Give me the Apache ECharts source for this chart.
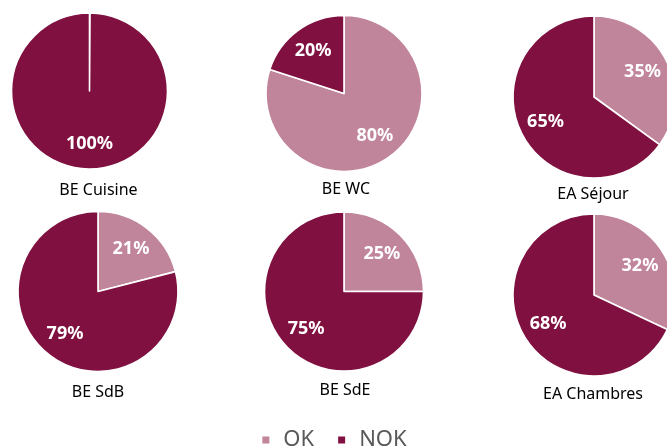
<!DOCTYPE html>
<html>
<head>
<meta charset="utf-8">
<script src="https://cdn.jsdelivr.net/npm/echarts@6/dist/echarts.min.js"></script>
<style>
  html, body { margin: 0; padding: 0; background: #ffffff; }
  #chart { width: 667px; height: 446px; }
</style>
</head>
<body>
<div id="chart"></div>
<script>
// Share of OK / NOK results per room (percent)
const rooms = ['BE Cuisine', 'BE WC', 'EA Séjour', 'BE SdB', 'BE SdE', 'EA Chambres'];
const okPct = [0, 80, 35, 21, 25, 32];
const nokPct = [100, 20, 65, 79, 75, 68];
const statusNames = ['OK', 'NOK'];

// Pie placement: centre, radius, and the room caption position
const pieLayout = [
  { c: [89.5, 91], r: 78, cap: [98.5, 190] },
  { c: [344, 93.5], r: 78, cap: [346, 189] },
  { c: [594, 97], r: 81, cap: [593, 194] },
  { c: [98, 291.5], r: 80, cap: [98, 392] },
  { c: [344, 291.5], r: 79.5, cap: [345, 390] },
  { c: [594, 295], r: 81, cap: [593, 394] }
];

const OK_COLOR = '#C0849B';
const NOK_COLOR = '#7F103F';
const FONT = '"Noto Sans", "DejaVu Sans", sans-serif';

const series = [];
rooms.forEach((room, i) => {
  const data = [
    { name: statusNames[0], value: okPct[i], itemStyle: { color: OK_COLOR } },
    { name: statusNames[1], value: nokPct[i], itemStyle: { color: NOK_COLOR } }
  ];
  const L = pieLayout[i];
  // Filled pie with white slice separators; a zero share still shows as a thin divider
  series.push({
    type: 'pie',
    name: room,
    center: L.c,
    radius: [0, L.r],
    startAngle: 90,
    clockwise: true,
    minAngle: 0.4,
    silent: true,
    label: { show: false },
    labelLine: { show: false },
    itemStyle: { borderColor: '#ffffff', borderWidth: 1.6 },
    emphasis: { disabled: true },
    data: data
  });
  // Transparent ring that places the value labels at ~63% of the radius
  series.push({
    type: 'pie',
    name: room + ' labels',
    center: L.c,
    radius: [L.r * 0.27, L.r],
    startAngle: 90,
    clockwise: true,
    silent: true,
    itemStyle: { color: 'rgba(0,0,0,0)', borderWidth: 0 },
    emphasis: { disabled: true },
    labelLine: { show: false },
    label: {
      show: true,
      position: 'inside',
      formatter: p => (p.value > 0 ? p.value + '%' : ''),
      color: '#ffffff',
      fontFamily: FONT,
      fontWeight: 'bold',
      fontSize: 18
    },
    data: data.map(d => ({ name: d.name, value: d.value }))
  });
});

const chart = echarts.init(document.getElementById('chart'), null, { renderer: 'canvas' });
chart.setOption({
  animation: false,
  backgroundColor: '#ffffff',
  color: [OK_COLOR, NOK_COLOR],
  legend: {
    data: [
      { name: statusNames[0], itemStyle: { color: OK_COLOR } },
      { name: statusNames[1], itemStyle: { color: NOK_COLOR } }
    ],
    left: 'center',
    top: 424,
    icon: 'rect',
    itemWidth: 9,
    itemHeight: 9,
    itemGap: 22,
    selectedMode: false,
    textStyle: {
      color: '#595959',
      fontFamily: FONT,
      fontSize: 22,
      padding: [0, 0, 0, 8]
    }
  },
  graphic: rooms.map((room, i) => ({
    type: 'text',
    x: pieLayout[i].cap[0],
    y: pieLayout[i].cap[1],
    silent: true,
    style: {
      text: room,
      fill: '#000000',
      font: '16px ' + FONT,
      align: 'center',
      verticalAlign: 'middle'
    }
  })),
  series: series
});
</script>
</body>
</html>
